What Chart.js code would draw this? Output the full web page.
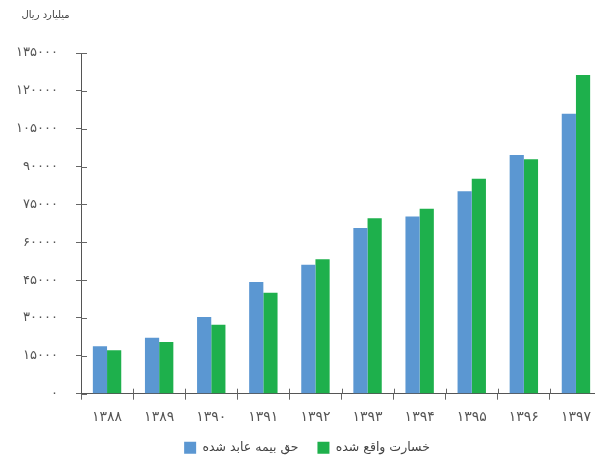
<!DOCTYPE html>
<html>
<head>
<meta charset="utf-8">
<script src="https://cdn.jsdelivr.net/npm/chart.js@4"></script>
<style>
  html, body { margin: 0; padding: 0; background: #fff; overflow: hidden; }
  #wrap { width: 604px; height: 466px; }
</style>
</head>
<body>
<div id="wrap"><canvas id="lossChart"></canvas></div>
<script>
const years = [1388, 1389, 1390, 1391, 1392, 1393, 1394, 1395, 1396, 1397];
const premium = [18800, 22200, 30400, 44300, 51100, 65700, 70200, 80200, 94600, 110900];
const losses = [17200, 20500, 27300, 40000, 53300, 69500, 73300, 85200, 92900, 126300];
const yTicks = [0, 15000, 30000, 45000, 60000, 75000, 90000, 105000, 120000, 135000];
const seriesNames = ['حق بیمه عابد شده', 'خسارت واقع شده'];
const unitLabel = 'میلیارد ریال';

const faDigits = '۰۱۲۳۴۵۶۷۸۹';
const toFa = n => String(n).replace(/\d/g, d => faDigits[d]);

Chart.defaults.font.family = "'DejaVu Sans', sans-serif";
Chart.defaults.color = '#555';

// small tick marks that cross the axis lines, as in the original
const crossTicks = {
  id: 'crossTicks',
  afterDraw(chart) {
    const { ctx, chartArea, scales: { x, y } } = chart;
    ctx.save();
    ctx.strokeStyle = '#666';
    ctx.lineWidth = 1;
    ctx.beginPath();
    yTicks.forEach(v => {
      const py = Math.round(y.getPixelForValue(v)) + 0.5;
      ctx.moveTo(chartArea.left, py);
      ctx.lineTo(chartArea.left + 6, py);
    });
    for (let i = 1; i < years.length; i++) {
      const px = Math.round((x.getPixelForValue(i - 1) + x.getPixelForValue(i)) / 2) + 0.5;
      ctx.moveTo(px, chartArea.bottom - 5);
      ctx.lineTo(px, chartArea.bottom);
    }
    ctx.stroke();
    ctx.restore();
  }
};

new Chart(document.getElementById('lossChart'), {
  type: 'bar',
  data: {
    labels: years.map(toFa),
    datasets: [
      { label: seriesNames[0], data: premium, backgroundColor: '#5B97D2' },
      { label: seriesNames[1], data: losses, backgroundColor: '#1EB04C' }
    ]
  },
  options: {
    responsive: true, maintainAspectRatio: false, animation: false,
    layout: { padding: { left: 12, right: 2, top: 0, bottom: 2 } },
    datasets: { bar: { categoryPercentage: 0.545, barPercentage: 1.0, borderWidth: 0 } },
    plugins: {
      title: { display: true, text: '   ' + unitLabel, align: 'start', color: '#444',
        font: { size: 10, weight: 'normal' }, padding: { top: 9, bottom: 32 } },
      legend: { position: 'bottom',
        labels: { boxWidth: 12, boxHeight: 12, padding: 7, color: '#444', font: { size: 12.5 },
          generateLabels: chart => Chart.defaults.plugins.legend.labels.generateLabels(chart)
            .map((l, i) => i === 0 ? { ...l, text: l.text + '   ' } : l) } },
      tooltip: { enabled: false }
    },
    scales: {
      x: {
        grid: { display: true, drawOnChartArea: false, offset: true, tickLength: 6, color: '#666' },
        border: { display: true, color: '#555' },
        ticks: { font: { size: 14 }, padding: 9, color: '#555' }
      },
      y: {
        min: 0, max: 135000,
        afterBuildTicks: s => { s.ticks = yTicks.map(v => ({ value: v })); },
        afterFit: s => { s.width = 69; },
        grid: { display: true, drawOnChartArea: false, tickLength: 5, color: '#666' },
        border: { display: true, color: '#555' },
        ticks: { font: { size: 13 }, padding: 18, color: '#555', callback: v => toFa(v) }
      }
    }
  },
  plugins: [crossTicks]
});
</script>
</body>
</html>
